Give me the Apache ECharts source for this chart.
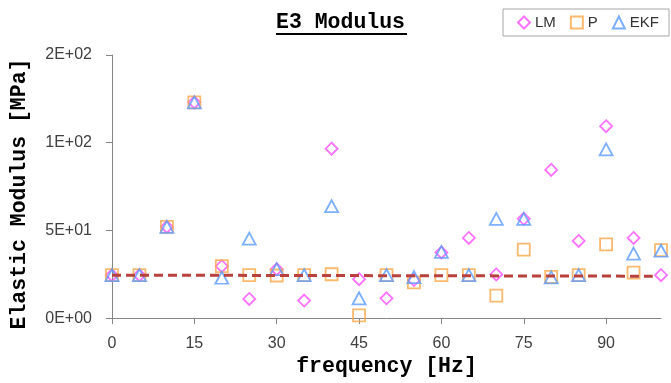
<!DOCTYPE html>
<html>
<head>
<meta charset="utf-8">
<script src="https://cdn.jsdelivr.net/npm/echarts@6/dist/echarts.min.js"></script>
<style>
  html, body { margin: 0; padding: 0; background: #fff; }
  #chart { width: 671px; height: 383px; }
</style>
</head>
<body>
<div id="chart"></div>
<script>
const freq = [0, 5, 10, 15, 20, 25, 30, 35, 40, 45, 50, 55, 60, 65, 70, 75, 80, 85, 90, 95, 100]
const lmValues = [24.5, 24.5, 52, 123, 29.6, 10.9, 27.9, 10, 96.6, 22.2, 11.3, 21.7, 37.4, 45.7, 24.9, 56.6, 84.5, 44, 109.4, 45.7, 24.5]
const pValues = [24.5, 24.5, 52, 123, 29.6, 24.5, 24.3, 24.5, 25, 1.5, 24.5, 20.4, 24.5, 24.5, 12.8, 39, 23.5, 24.5, 42, 25.9, 38.7]
const ekfValues = [24.5, 24.5, 52, 123, 23, 45.3, 27.9, 24.5, 63.8, 11.3, 24.5, 23.4, 37.7, 24.5, 56.6, 56.6, 23.2, 24.5, 96.2, 36.8, 38.4]
// dashed reference line (start / end)
const refLine = [[0, 24.5], [98.5, 23.9]]

const xTicks = [0, 15, 30, 45, 60, 75, 90]
const yTicks = [0, 50, 100, 150]
const yTickLabels = ['0E+00', '5E+01', '1E+02', '2E+02']

const mono = 'Liberation Mono, Courier New, monospace'
const sans = 'Liberation Sans, Arial, sans-serif'

const toPairs = (vals) => freq.map((f, i) => [f, vals[i]])

function scatter(name, symbol, size, color, vals) {
  return {
    name,
    type: 'scatter',
    symbol,
    symbolSize: size,
    itemStyle: {
      color: 'rgba(255,255,255,0)',
      borderColor: color,
      borderWidth: 1.8
    },
    data: toPairs(vals)
  }
}

const chart = echarts.init(document.getElementById('chart'))

chart.setOption({
  backgroundColor: '#fff',
  animation: false,
  title: {
    text: 'E3 Modulus',
    left: 276,
    top: 12,
    padding: 0,
    textStyle: {
      fontFamily: mono,
      fontWeight: 'bold',
      fontSize: 21.5,
      color: '#000'
    }
  },
  legend: {
    data: ['LM', 'P', 'EKF'],
    orient: 'horizontal',
    left: 503,
    top: 9,
    width: 168,
    padding: [6, 10, 6, 14],
    borderColor: '#a6a6a6',
    borderWidth: 1,
    borderRadius: 0,
    itemWidth: 12,
    itemHeight: 12,
    itemGap: 14,
    textStyle: {
      fontFamily: sans,
      fontSize: 15,
      color: '#333'
    }
  },
  grid: {
    left: 112,
    right: 10,
    top: 55,
    bottom: 63
  },
  xAxis: {
    type: 'value',
    min: 0,
    max: 100,
    interval: 5,
    name: 'frequency [Hz]',
    nameLocation: 'middle',
    nameGap: 37,
    nameTextStyle: {
      fontFamily: mono,
      fontWeight: 'bold',
      fontSize: 21.5,
      color: '#000'
    },
    splitLine: { show: false },
    axisLine: { lineStyle: { color: '#868686', width: 1 } },
    axisTick: { length: 6, customValues: xTicks, lineStyle: { color: '#868686' } },
    axisLabel: {
      customValues: xTicks,
      margin: 17,
      fontFamily: sans,
      fontSize: 16,
      color: '#404040'
    }
  },
  yAxis: {
    type: 'value',
    min: 0,
    max: 150,
    interval: 50,
    splitLine: { show: false },
    axisLine: { show: true, lineStyle: { color: '#868686', width: 1 } },
    axisTick: { show: true, length: 6, lineStyle: { color: '#868686' } },
    axisLabel: {
      margin: 20,
      fontFamily: sans,
      fontSize: 16,
      color: '#404040',
      formatter: (v) => yTickLabels[yTicks.indexOf(v)] || ''
    }
  },
  graphic: [
    {
      type: 'line',
      shape: { x1: 276, y1: 34, x2: 407, y2: 34 },
      style: { stroke: '#000', lineWidth: 2 }
    },
    {
      type: 'text',
      x: 20,
      y: 194,
      rotation: Math.PI / 2,
      style: {
        text: 'Elastic Modulus [MPa]',
        fontFamily: mono,
        fontWeight: 'bold',
        fontSize: 21.5,
        fill: '#000',
        align: 'center',
        verticalAlign: 'middle'
      }
    }
  ],
  series: [
    scatter('LM', 'diamond', 12, '#ff4dff', lmValues),
    scatter('P', 'rect', 12, '#f9a84a', pValues),
    scatter('EKF', 'triangle', [13, 12], '#5c9bff', ekfValues),
    {
      name: 'trend',
      type: 'line',
      symbol: 'none',
      silent: true,
      z: 5,
      lineStyle: { color: '#b8403d', width: 3, type: [9, 5] },
      data: refLine
    }
  ]
})
</script>
</body>
</html>
